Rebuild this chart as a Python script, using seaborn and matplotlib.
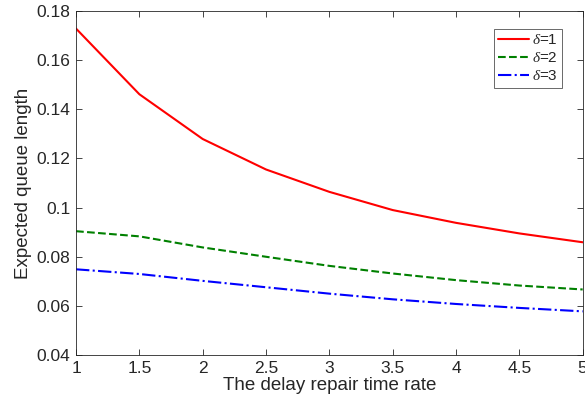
import matplotlib
matplotlib.use("Agg")
import matplotlib.pyplot as plt
import seaborn as sns
import pandas as pd

x_rate = [1, 1.5, 2, 2.5, 3, 3.5, 4, 4.5, 5]
delta1 = [0.1728, 0.1461, 0.1279, 0.1155, 0.1064, 0.0990, 0.0938, 0.0895, 0.0859]
delta2 = [0.0904, 0.0883, 0.0838, 0.0800, 0.0763, 0.0732, 0.0705, 0.0683, 0.0667]
delta3 = [0.0749, 0.0730, 0.0702, 0.0676, 0.0650, 0.0627, 0.0608, 0.0592, 0.0578]
labels = [r"$\delta$=1", r"$\delta$=2", r"$\delta$=3"]
x_ticks = [1, 1.5, 2, 2.5, 3, 3.5, 4, 4.5, 5]
y_ticks = [0.04, 0.06, 0.08, 0.1, 0.12, 0.14, 0.16, 0.18]
y_tick_labels = ["0.04", "0.06", "0.08", "0.1", "0.12", "0.14", "0.16", "0.18"]

sns.set_theme(style="ticks")
plt.rcParams['font.family'] = ['Liberation Sans', 'DejaVu Sans']
plt.rcParams['mathtext.fontset'] = 'custom'
plt.rcParams['mathtext.it'] = 'Liberation Serif:italic'
plt.rcParams['mathtext.rm'] = 'Liberation Sans'

fig = plt.figure(figsize=(5.85, 4.04), dpi=100)
ax = fig.add_axes([0.130, 0.121, 0.866, 0.852])

styles = [("#ff0000", "-"), ("#008000", "--"), ("#0000ff", "-.")]
for vals, lab, (c, ls) in zip([delta1, delta2, delta3], labels, styles):
    df = pd.DataFrame({"x": x_rate, "y": vals})
    sns.lineplot(data=df, x="x", y="y", ax=ax, color=c, linestyle=ls,
                 linewidth=1.5, label=lab)

ax.set_xlim(1, 5)
ax.set_ylim(0.04, 0.18)
ax.set_xticks(x_ticks)
ax.set_xticklabels([f"{v:g}" for v in x_ticks])
ax.set_yticks(y_ticks)
ax.set_yticklabels(y_tick_labels)
ax.set_xlabel("The delay repair time rate", fontsize=13.5, color="#262626", labelpad=1)
ax.set_ylabel("Expected queue length", fontsize=13.5, color="#262626", labelpad=3)

for s in ax.spines.values():
    s.set_visible(True)
    s.set_color("#262626")
    s.set_linewidth(0.6)
ax.tick_params(direction="in", top=True, right=True, length=4, width=0.6,
               labelsize=12.5, colors="#262626", pad=4)

leg = ax.legend(loc="upper right", bbox_to_anchor=(0.96, 0.948), fontsize=11,
                frameon=True, fancybox=False, edgecolor="#262626",
                handlelength=2.0, handletextpad=0.2, borderpad=0.3,
                labelspacing=0.25, borderaxespad=0)
leg.get_frame().set_linewidth(0.6)

fig.savefig("out.png", dpi=100)
